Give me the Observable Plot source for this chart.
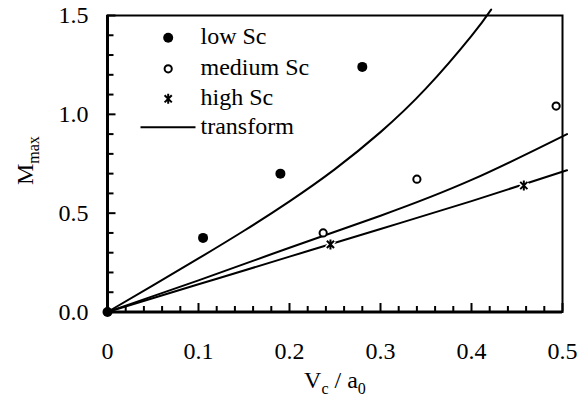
<!DOCTYPE html>
<html><head><meta charset="utf-8">
<script src="https://cdn.jsdelivr.net/npm/d3@7"></script>
<script src="https://cdn.jsdelivr.net/npm/@observablehq/plot@0.6"></script>
<style>
body{margin:0;background:#fff;}
#wrap{position:relative;width:587px;height:402px;}
</style></head><body><div id="wrap"></div>
<script>
// data
const lowX = [0, 0.105, 0.19, 0.28];
const lowY = [0, 0.375, 0.70, 1.24];
const medX = [0.237, 0.34, 0.493];
const medY = [0.40, 0.672, 1.042];
const highX = [0.245, 0.4575];
const highY = [0.342, 0.64];
const t1X = [0, 0.05, 0.1, 0.15, 0.2, 0.25, 0.3, 0.35, 0.4, 0.4216];
const t1Y = [0, 0.135, 0.271, 0.411, 0.560, 0.723, 0.910, 1.131, 1.397, 1.530];
const t2X = [0, 0.1, 0.2, 0.3, 0.4, 0.505];
const t2Y = [0, 0.16, 0.325, 0.487, 0.668, 0.90];
const t3X = [0, 0.1, 0.2, 0.3, 0.4, 0.505];
const t3Y = [0, 0.14, 0.28, 0.42, 0.561, 0.717];
const xTicks = [0, 0.1, 0.2, 0.3, 0.4, 0.5];
const xTickLabels = ["0", "0.1", "0.2", "0.3", "0.4", "0.5"];
const xMinorTicks = [0.02,0.04,0.06,0.08,0.12,0.14,0.16,0.18,0.22,0.24,0.26,0.28,0.32,0.34,0.36,0.38,0.42,0.44,0.46,0.48];
const yTicks = [0, 0.5, 1.0, 1.5];
const yTickLabels = ["0.0", "0.5", "1.0", "1.5"];
const yMinorTicks = [0.1,0.2,0.3,0.4,0.6,0.7,0.8,0.9,1.1,1.2,1.3,1.4];
const legendLabels = ["low Sc", "medium Sc", "high Sc", "transform"];

const W = 587, H = 402, mT = 15, mB = 90.5, mL = 107, mR = 25;
const frameW = W - mL - mR, frameH = H - mT - mB;
const FONT = "Liberation Serif";

const starSymbol = {
  draw(ctx, size) {
    const r = Math.sqrt(size / Math.PI);
    const a = r * 0.72;
    ctx.moveTo(-a, -a); ctx.lineTo(a, a);
    ctx.moveTo(-a, a); ctx.lineTo(a, -a);
    ctx.moveTo(0, -r); ctx.lineTo(0, r);
  }
};
const dashSymbol = {
  draw(ctx, size) { ctx.moveTo(-27.5, 0); ctx.lineTo(27.5, 0); }
};

// legend layout (pixel offsets from the frame's top-left corner)
const rowDy = [22.3, 53.3, 83.3, 111.7];
const markDx = 60.7, textDx = 93;
const T = {fontFamily: FONT, fill: "black", stroke: null};

const chart = Plot.plot({
  width: W, height: H,
  marginTop: mT, marginBottom: mB, marginLeft: mL, marginRight: mR,
  style: {fontFamily: FONT, fontSize: "24px"},
  x: {domain: [0, 0.5], axis: null},
  y: {domain: [0, 1.5], axis: null},
  marks: [
    // tick labels through the x and y scales
    Plot.text(xTicks, {x: d => d, frameAnchor: "bottom", text: d => xTickLabels[xTicks.indexOf(d)], lineAnchor: "top", dy: 29.5, fontSize: 24, ...T}),
    Plot.text(yTicks, {y: d => d, frameAnchor: "left", text: d => yTickLabels[yTicks.indexOf(d)], textAnchor: "end", lineAnchor: "middle", dx: -19, fontSize: 24, ...T}),
    // x axis title: V_c / a_0
    Plot.text(["V"], {frameAnchor: "bottom", textAnchor: "start", lineAnchor: "middle", dx: -30.9, dy: 68.8, fontSize: 24, ...T}),
    Plot.text(["c"], {frameAnchor: "bottom", textAnchor: "start", lineAnchor: "middle", dx: -13.6, dy: 76.4, fontSize: 16, ...T}),
    Plot.text(["/ a"], {frameAnchor: "bottom", textAnchor: "start", lineAnchor: "middle", dx: -0.5, dy: 68.8, fontSize: 24, ...T}),
    Plot.text(["0"], {frameAnchor: "bottom", textAnchor: "start", lineAnchor: "middle", dx: 22.8, dy: 76.4, fontSize: 16, ...T}),
    // y axis title: M_max
    Plot.text(["M"], {frameAnchor: "left", textAnchor: "start", lineAnchor: "middle", rotate: -90, dx: -81.7, dy: 21.2, fontSize: 24, ...T}),
    Plot.text(["max"], {frameAnchor: "left", textAnchor: "start", lineAnchor: "middle", rotate: -90, dx: -74.1, dy: 0, fontSize: 16, ...T}),
    // curves
    Plot.line(t1X, {x: t1X, y: t1Y, curve: "natural", stroke: "black", strokeWidth: 2}),
    Plot.line(t2X, {x: t2X, y: t2Y, curve: "natural", stroke: "black", strokeWidth: 2}),
    Plot.line(t3X, {x: t3X, y: t3Y, curve: "natural", stroke: "black", strokeWidth: 2}),
    // frame and axes lines
    Plot.frame({stroke: "black", strokeWidth: 2}),
    Plot.ruleX([0], {stroke: "black", strokeWidth: 3}),
    Plot.ruleY([0], {stroke: "black", strokeWidth: 3}),
    // inward ticks along bottom axis
    Plot.tickX(xMinorTicks, {x: d => d, insetTop: frameH - 5.5, stroke: "black", strokeWidth: 2}),
    Plot.tickX(xTicks, {x: d => d, insetTop: frameH - 8.5, stroke: "black", strokeWidth: 2}),
    // inward ticks along left axis
    Plot.tickY(yMinorTicks, {y: d => d, insetRight: frameW - 6.5, stroke: "black", strokeWidth: 2}),
    Plot.tickY(yTicks, {y: d => d, insetRight: frameW - 8.5, stroke: "black", strokeWidth: 2}),
    // data points
    Plot.dot(lowX, {x: lowX, y: lowY, r: 5, fill: "black", stroke: "none"}),
    Plot.dot(medX, {x: medX, y: medY, r: 3.6, fill: "white", stroke: "black", strokeWidth: 2}),
    Plot.dot(highX, {x: highX, y: highY, r: 5, symbol: starSymbol, stroke: "white", strokeWidth: 5}),
    Plot.dot(highX, {x: highX, y: highY, r: 5, symbol: starSymbol, stroke: "black", strokeWidth: 2}),
    // legend
    Plot.dot([0], {frameAnchor: "top-left", dx: markDx, dy: rowDy[0], r: 5, fill: "black", stroke: "none"}),
    Plot.dot([0], {frameAnchor: "top-left", dx: markDx, dy: rowDy[1], r: 3.6, fill: "white", stroke: "black", strokeWidth: 2}),
    Plot.dot([0], {frameAnchor: "top-left", dx: markDx, dy: rowDy[2], r: 5, symbol: starSymbol, stroke: "black", strokeWidth: 2}),
    Plot.dot([0], {frameAnchor: "top-left", dx: markDx - 0.2, dy: rowDy[3], r: 5, symbol: dashSymbol, stroke: "black", strokeWidth: 2}),
    ...legendLabels.map((t, i) => Plot.text([t], {frameAnchor: "top-left", textAnchor: "start", lineAnchor: "middle", dx: textDx, dy: rowDy[i] - 1, fontSize: 24, ...T}))
  ]
});

document.getElementById("wrap").appendChild(chart);
</script>
</body></html>
